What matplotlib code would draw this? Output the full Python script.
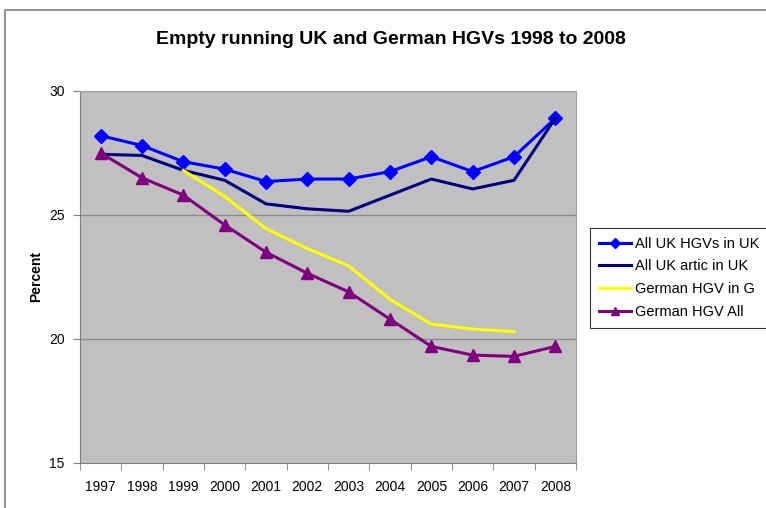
import matplotlib
matplotlib.use("Agg")
import matplotlib.pyplot as plt
import numpy as np
from matplotlib.patches import Rectangle

plt.rcParams['font.family'] = ['Liberation Sans', 'DejaVu Sans']

years = ['1997', '1998', '1999', '2000', '2001', '2002', '2003', '2004',
         '2005', '2006', '2007', '2008']

uk_all = [28.2, 27.8, 27.15, 26.85, 26.35, 26.45, 26.45, 26.75, 27.35, 26.75, 27.35, 28.9]
uk_artic = [27.45, 27.4, 26.8, 26.4, 25.45, 25.25, 25.15, 25.8, 26.45, 26.05, 26.4, 28.9]
de_in_g = [None, None, 26.8, 25.75, 24.45, 23.65, 22.95, 21.6, 20.6, 20.4, 20.3, None]
de_all = [27.5, 26.5, 25.8, 24.6, 23.5, 22.65, 21.9, 20.8, 19.7, 19.35, 19.3, 19.7]

fig = plt.figure(figsize=(7.66, 5.08), dpi=100)
fig.patch.set_facecolor('white')

# outer chart-area frame
fig.patches.append(Rectangle((5 / 766, -0.1), 1.2, 1 - 10 / 508 + 0.1,
                             transform=fig.transFigure, fill=False,
                             edgecolor='#808080', linewidth=1.2))

ax = fig.add_axes([80 / 766, 1 - 463 / 508, 496 / 766, 372 / 508])
ax.set_facecolor('#C0C0C0')

x = np.arange(len(years))
ax.plot(x, uk_all, color='#0000FF', linewidth=2.2, marker='D', markersize=7,
        label='All UK HGVs in UK')
ax.plot(x, uk_artic, color='#000080', linewidth=2.2, label='All UK artic in UK')
g = np.array([np.nan if v is None else v for v in de_in_g])
ax.plot(x, g, color='#FFFF00', linewidth=2.2, label='German HGV in G')
ax.plot(x, de_all, color='#800080', linewidth=2.2, marker='^', markersize=8,
        label='German HGV All')

ax.set_xlim(-0.5, len(years) - 0.5)
ax.set_ylim(15, 30)
ax.set_yticks([15, 20, 25, 30])
ax.set_xticks(x)
ax.set_xticklabels(years)
ax.set_xticks(np.arange(-0.5, len(years), 1), minor=True)
ax.tick_params(axis='x', which='major', length=0, pad=12, labelsize=10)
ax.tick_params(axis='x', which='minor', length=5, direction='out', color='#808080')
ax.tick_params(axis='y', length=5, direction='out', color='#808080', labelsize=10, pad=6)

for yv in [20, 25, 30]:
    ax.axhline(yv, color='#8C8C8C', linewidth=1, zorder=0.5)

for side in ['top', 'right']:
    ax.spines[side].set_color('#A0A0A0')
for side in ['left', 'bottom']:
    ax.spines[side].set_color('#808080')

ax.set_ylabel('Percent', fontsize=10, fontweight='bold', labelpad=4)

fig.text(391 / 766, 1 - 40 / 508, 'Empty running UK and German HGVs 1998 to 2008',
         ha='center', va='center', fontsize=14, fontweight='bold')

leg = ax.legend(loc='upper left', bbox_to_anchor=(590 / 766, 1 - 228 / 508),
                bbox_transform=fig.transFigure, borderaxespad=0, fontsize=10.5,
                frameon=True, fancybox=False, edgecolor='black', handlelength=2.2,
                handletextpad=0.3, borderpad=0.6, labelspacing=0.6, markerscale=0.8)
leg.get_frame().set_linewidth(0.8)

fig.savefig('out.png', dpi=100)
